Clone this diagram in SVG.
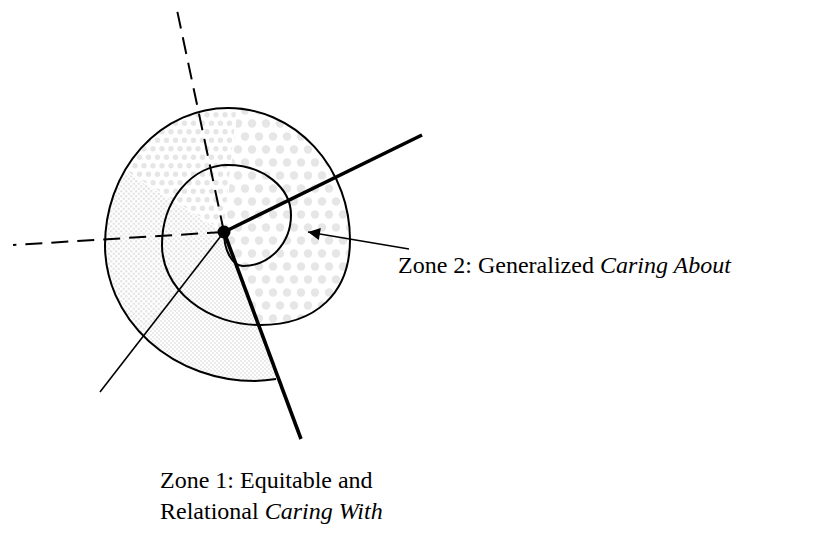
<svg xmlns="http://www.w3.org/2000/svg" width="830" height="538" viewBox="0 0 830 538">
<style>
.lbl{font-family:"Liberation Serif","Times New Roman",serif;font-size:24px;fill:#000}
.it{font-style:italic}
.sp{fill:none;stroke:#000;stroke-width:2}
.thick{stroke:#000;stroke-width:3.6;stroke-linecap:butt}
.thin{stroke:#000;stroke-width:1.6}
.dash{stroke:#000;stroke-width:2;stroke-dasharray:17 9}
.faint{stroke:#fff;stroke-width:1.2}
.dot{fill:#e6e6e6}
</style>
<defs>
<pattern id="pL" width="14" height="26" patternUnits="userSpaceOnUse"><circle class="dot" cx="7" cy="6.5" r="4.2"/><circle class="dot" cx="0" cy="19.5" r="4.2"/><circle class="dot" cx="14" cy="19.5" r="4.2"/></pattern>
<pattern id="pM" width="9" height="17" patternUnits="userSpaceOnUse"><circle class="dot" cx="4.5" cy="4.25" r="2.7"/><circle class="dot" cx="0" cy="12.75" r="2.7"/><circle class="dot" cx="9" cy="12.75" r="2.7"/></pattern>
<pattern id="pS" width="5" height="5" patternUnits="userSpaceOnUse"><circle class="dot" cx="1.25" cy="1.25" r="1.3"/><circle class="dot" cx="3.75" cy="3.75" r="1.3"/></pattern>
<pattern id="pC" width="4" height="4" patternUnits="userSpaceOnUse"><rect x="0" y="0" width="2" height="2" fill="#ebebeb"/><rect x="2" y="2" width="2" height="2" fill="#ebebeb"/></pattern>
<clipPath id="zoneClip"><path d="M260,325 C316,325 350,293 350,240 A122 132 0 0 0 228,108 A123 137 0 0 0 105,245 A150 136 0 0 0 255,381 A150 136 0 0 0 276,379 Z"/></clipPath>
<marker id="ah" viewBox="0 0 10 10" refX="10" refY="5" markerWidth="16" markerHeight="12" markerUnits="userSpaceOnUse" orient="auto"><path d="M0,0 L10,5 L0,10 Z" fill="#000"/></marker>
</defs>
<g id="zone-fills" clip-path="url(#zoneClip)">
<polygon points="224,232 287,-365 900,-365 900,794 434,794" fill="url(#pL)"/>
<polygon points="224,232 434,794 -144,794 -144,706" fill="url(#pC)"/>
<polygon points="224,232 -144,706 -300,706 -300,-86 -285,-86" fill="url(#pS)"/>
<polygon points="224,232 -285,-86 -285,-365 287,-365" fill="url(#pM)"/>
<line class="faint" x1="224" y1="232" x2="237" y2="108"/>
<line class="faint" x1="224" y1="232" x2="120" y2="168"/>
</g>
<g id="spiral">
<path class="sp" d="M224,232 A19 34 0 0 0 243,266 A48 51 0 0 0 291,215 A63 50 0 0 0 228,165 A66 80 0 0 0 162,245 A98 80 0 0 0 260,325 C316,325 350,293 350,240 A122 132 0 0 0 228,108 A123 137 0 0 0 105,245 A150 136 0 0 0 255,381 A150 136 0 0 0 276,379"/>
</g>
<g id="connectors">
<line class="dash" x1="224" y1="232" x2="177" y2="10"/>
<line class="dash" x1="224" y1="232" x2="13" y2="245"/>
<line class="thin" x1="224" y1="232" x2="100" y2="392"/>
<line class="thick" x1="224" y1="232" x2="422" y2="135"/>
<line class="thick" x1="224" y1="232" x2="301" y2="439"/>
<line class="thin" x1="409" y1="249" x2="308" y2="232" marker-end="url(#ah)"/>
</g>
<g id="center-node"><circle cx="224" cy="232" r="6.5" fill="#000"/></g>
<g id="label-zone2"><text class="lbl" x="398" y="273">Zone 2: Generalized <tspan class="it">Caring About</tspan></text></g>
<g id="label-zone1"><text class="lbl" x="160" y="488">Zone 1: Equitable and</text><text class="lbl" x="160" y="519">Relational <tspan class="it">Caring With</tspan></text></g>
</svg>
